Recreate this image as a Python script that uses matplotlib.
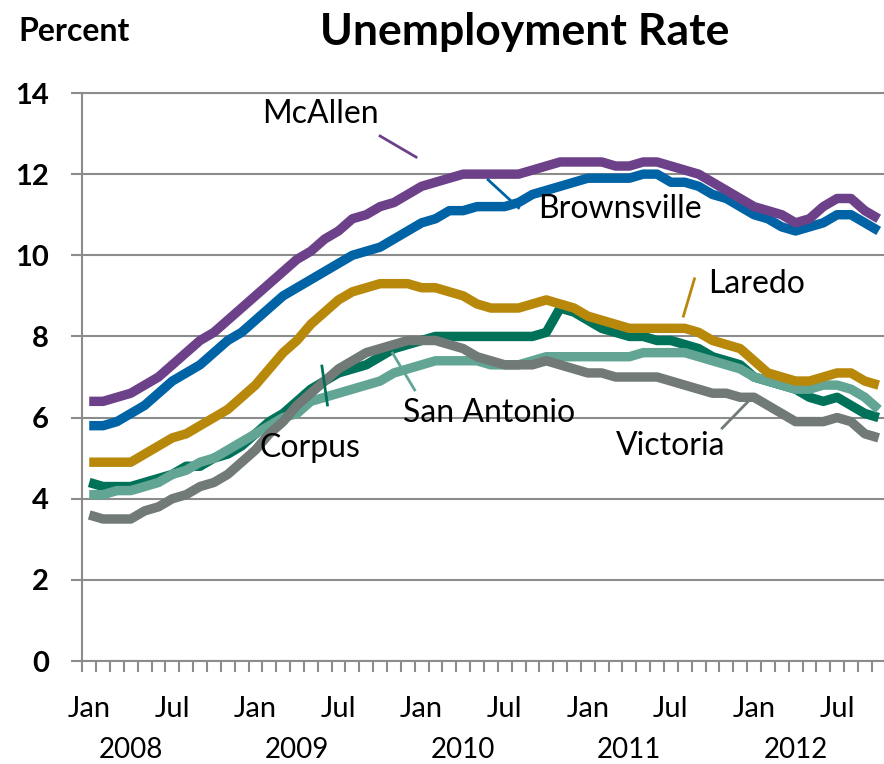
import matplotlib
matplotlib.use("Agg")
import matplotlib.pyplot as plt
import numpy as np
import pandas as pd

plt.rcParams['font.family'] = ['Lato', 'DejaVu Sans']

# monthly data, Jan 2008 - Oct 2012
months = pd.date_range("2008-01-01", periods=58, freq="MS")

mcallen = [6.4, 6.4, 6.5, 6.6, 6.8, 7.0, 7.3, 7.6, 7.9, 8.1, 8.4, 8.7, 9.0, 9.3, 9.6, 9.9, 10.1, 10.4, 10.6, 10.9, 11.0,
           11.2, 11.3, 11.5, 11.7, 11.8, 11.9, 12.0, 12.0, 12.0, 12.0, 12.0, 12.1, 12.2, 12.3, 12.3, 12.3, 12.3, 12.2, 12.2, 12.3,
           12.3, 12.2, 12.1, 12.0, 11.8, 11.6, 11.4, 11.2, 11.1, 11.0, 10.8, 10.9, 11.2, 11.4, 11.4, 11.1, 10.9]
brownsville = [5.8, 5.8, 5.9, 6.1, 6.3, 6.6, 6.9, 7.1, 7.3, 7.6, 7.9, 8.1, 8.4, 8.7, 9.0, 9.2, 9.4, 9.6, 9.8, 10.0, 10.1,
               10.2, 10.4, 10.6, 10.8, 10.9, 11.1, 11.1, 11.2, 11.2, 11.2, 11.3, 11.5, 11.6, 11.7, 11.8, 11.9, 11.9, 11.9, 11.9, 12.0,
               12.0, 11.8, 11.8, 11.7, 11.5, 11.4, 11.2, 11.0, 10.9, 10.7, 10.6, 10.7, 10.8, 11.0, 11.0, 10.8, 10.6]
laredo = [4.9, 4.9, 4.9, 4.9, 5.1, 5.3, 5.5, 5.6, 5.8, 6.0, 6.2, 6.5, 6.8, 7.2, 7.6, 7.9, 8.3, 8.6, 8.9, 9.1, 9.2,
          9.3, 9.3, 9.3, 9.2, 9.2, 9.1, 9.0, 8.8, 8.7, 8.7, 8.7, 8.8, 8.9, 8.8, 8.7, 8.5, 8.4, 8.3, 8.2, 8.2,
          8.2, 8.2, 8.2, 8.1, 7.9, 7.8, 7.7, 7.4, 7.1, 7.0, 6.9, 6.9, 7.0, 7.1, 7.1, 6.9, 6.8]
corpus = [4.4, 4.3, 4.3, 4.3, 4.4, 4.5, 4.6, 4.8, 4.8, 5.0, 5.1, 5.3, 5.6, 5.9, 6.1, 6.4, 6.7, 6.9, 7.1, 7.2, 7.3,
          7.5, 7.7, 7.8, 7.9, 8.0, 8.0, 8.0, 8.0, 8.0, 8.0, 8.0, 8.0, 8.1, 8.7, 8.6, 8.4, 8.2, 8.1, 8.0, 8.0,
          7.9, 7.9, 7.8, 7.7, 7.5, 7.4, 7.3, 7.0, 6.9, 6.8, 6.7, 6.5, 6.4, 6.5, 6.3, 6.1, 6.0]
san_antonio = [4.1, 4.1, 4.2, 4.2, 4.3, 4.4, 4.6, 4.7, 4.9, 5.0, 5.2, 5.4, 5.6, 5.8, 6.0, 6.1, 6.4, 6.5, 6.6, 6.7, 6.8,
               6.9, 7.1, 7.2, 7.3, 7.4, 7.4, 7.4, 7.4, 7.3, 7.3, 7.3, 7.4, 7.5, 7.5, 7.5, 7.5, 7.5, 7.5, 7.5, 7.6,
               7.6, 7.6, 7.6, 7.5, 7.4, 7.3, 7.2, 7.0, 6.9, 6.8, 6.7, 6.7, 6.8, 6.8, 6.7, 6.5, 6.2]
victoria = [3.6, 3.5, 3.5, 3.5, 3.7, 3.8, 4.0, 4.1, 4.3, 4.4, 4.6, 4.9, 5.2, 5.6, 5.9, 6.3, 6.6, 6.9, 7.2, 7.4, 7.6,
            7.7, 7.8, 7.9, 7.9, 7.9, 7.8, 7.7, 7.5, 7.4, 7.3, 7.3, 7.3, 7.4, 7.3, 7.2, 7.1, 7.1, 7.0, 7.0, 7.0,
            7.0, 6.9, 6.8, 6.7, 6.6, 6.6, 6.5, 6.5, 6.3, 6.1, 5.9, 5.9, 5.9, 6.0, 5.9, 5.6, 5.5]

names = ["Corpus", "San Antonio", "Victoria", "Laredo", "Brownsville", "McAllen"]
values = [corpus, san_antonio, victoria, laredo, brownsville, mcallen]
colors = ["#007259", "#62A594", "#717A77", "#B8880B", "#0063A6", "#6D4189"]

# label text position (month index, value) and leader line end points
label_pos = {"McAllen": (16.7, 13.26), "Brownsville": (38.3, 10.92), "Laredo": (48.2, 9.07),
             "Corpus": (15.95, 5.03), "San Antonio": (28.9, 5.89), "Victoria": (42.0, 5.08)}
leaders = {"McAllen": ((21.0, 12.94), (23.6, 12.42)), "Brownsville": ((28.8, 11.86), (31.0, 11.17)),
           "Laredo": ((43.7, 9.42), (42.9, 8.50)), "Corpus": ((16.8, 7.27), (17.2, 6.31)),
           "San Antonio": ((21.9, 7.59), (23.5, 6.68)), "Victoria": ((47.9, 6.51), (45.7, 5.74))}

grid_col = "#8C8C8C"

fig = plt.figure(figsize=(8.84, 7.64), dpi=100)
ax = fig.add_axes([82.3 / 884, 103 / 764, (885.6 - 82.3) / 884, 568 / 764])

x = np.arange(len(months))
for name, vals, c in zip(names, values, colors):
    ax.plot(x, vals, color=c, lw=6.8, solid_joinstyle="round", solid_capstyle="butt", zorder=3)
    (x0, y0), (x1, y1) = leaders[name]
    ax.plot([x0, x1], [y0, y1], color=c, lw=2, zorder=4)
    tx, ty = label_pos[name]
    ax.text(tx, ty, name, ha="center", va="baseline", fontsize=23, color="black", zorder=5)

ax.set_xlim(-0.5, len(months) - 0.5)
ax.set_ylim(0, 14)
ax.set_yticks(range(0, 15, 2))
ax.grid(axis="y", color=grid_col, lw=1.5)
ax.set_axisbelow(True)
ax.spines["right"].set_visible(False)
for s in ["left", "bottom", "top"]:
    ax.spines[s].set_color(grid_col)
    ax.spines[s].set_linewidth(1.5)

# category boundary ticks
ax.set_xticks(np.arange(-0.5, len(months) + 0.5, 1.0))
ax.tick_params(axis="x", which="major", length=8, width=1.5, color=grid_col, labelbottom=False)
lab_idx = [i for i, m in enumerate(months) if m.month in (1, 7)]
ax.set_xticks(lab_idx, minor=True)
ax.set_xticklabels([months[i].strftime("%b") for i in lab_idx], minor=True)
ax.tick_params(axis="x", which="minor", length=0, pad=25, labelsize=21)

ax.tick_params(axis="y", length=8, width=1.5, color=grid_col, pad=16, labelsize=21)
for lab in ax.get_yticklabels():
    lab.set_fontweight("bold")

# year labels, centred between the Jan and Jul labels
for yr in sorted(set(months.year)):
    idx = [i for i, m in enumerate(months) if m.year == yr][0] + 3
    ax.annotate(str(yr), xy=(idx, 0), xycoords=("data", "axes fraction"),
                xytext=(0, -64), textcoords="offset points", ha="center", va="center",
                fontsize=20, annotation_clip=False)

fig.text(18 / 884, 1 - 41 / 764, "Percent", fontsize=23, fontweight="bold", ha="left", va="baseline")
fig.text(525 / 884, 1 - 45 / 764, "Unemployment Rate", fontsize=32, fontweight="bold", ha="center", va="baseline")

fig.savefig("out.png", dpi=100)
